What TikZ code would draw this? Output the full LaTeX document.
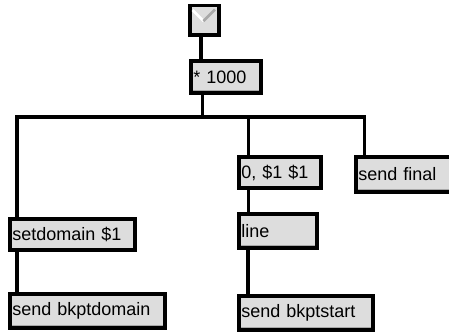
\documentclass[tikz,border=0pt]{standalone}
\usepackage{fontspec}
\setmainfont{Liberation Sans}
\usepackage{tikz}
\definecolor{boxfill}{HTML}{DDDDDD}
\definecolor{inletgray}{HTML}{A8A8A8}

\begin{document}
\begin{tikzpicture}[
    x=1pt, y=-1pt,
    every node/.style={font=\fontsize{18}{20}\selectfont},
    obj/.style={draw, line width=3.6pt, fill=boxfill, inner xsep=2.2pt, inner ysep=0pt, align=left},
    outlet/.style={path picture={\draw[inletgray, line width=2pt]
        ([yshift=2.6pt]path picture bounding box.south west) -- ([yshift=2.6pt]path picture bounding box.south east);}},
    bangbox/.style={draw, line width=3.6pt, fill=boxfill, minimum size=29.4pt, inner sep=0pt},
    cord/.style={draw, line width=3.8pt},
]
  \useasboundingbox (0,0) rectangle (449,333);

  \node[bangbox] (bang) at (204.5,20) {};
  \draw[white, line width=2.5pt] (192.5,10) -- (203.5,21);
  \draw[inletgray, line width=2.5pt] (203.5,21) -- (215,9.5);

  \node[obj, outlet, text width=65.4pt, minimum height=32.4pt] (mul) at (226,77) {* 1000};
  \node[obj, text width=77.4pt, minimum height=31.4pt] (zero) at (280,172.5) {0, \$1 \$1};
  \node[obj, outlet, text width=101.4pt, minimum height=35.4pt] (final) at (409,174.5) {send final};
  \node[obj, text width=120.4pt, minimum height=31.4pt] (setdom) at (72.5,234.5) {setdomain \$1};
  \node[obj, outlet, text width=73.4pt, minimum height=34.4pt] (line) at (278,231) {line};
  \node[obj, outlet, text width=150.4pt, minimum height=34.4pt] (bkptdom) at (87.5,311) {send bkptdomain};
  \node[obj, outlet, text width=129.4pt, minimum height=34.4pt] (bkptstart) at (306,313) {send bkptstart};

  \coordinate (hub) at (202.5,117);
  \coordinate (zeroin) at ([xshift=11.25pt]zero.north west);

  \draw[cord] ([xshift=13pt]bang.south west) -- ([xshift=13pt]bang.south west |- mul.north);
  \draw[cord] (hub |- mul.south) -- (hub);
  \draw[cord] ([xshift=9pt]setdom.north west) |- (hub) -| ([xshift=10.25pt]final.north west);
  \draw[cord] (hub -| zeroin) -- (zeroin);
  \draw[cord] ([xshift=11.25pt]zero.south west) -- ([xshift=11.25pt]line.north west);
  \draw[cord] ([xshift=10.5pt]line.south west) -- ([xshift=10.5pt]line.south west |- bkptstart.north);
  \draw[cord] ([xshift=9pt]setdom.south west) -- ([xshift=9pt]bkptdom.north west);
\end{tikzpicture}
\end{document}
